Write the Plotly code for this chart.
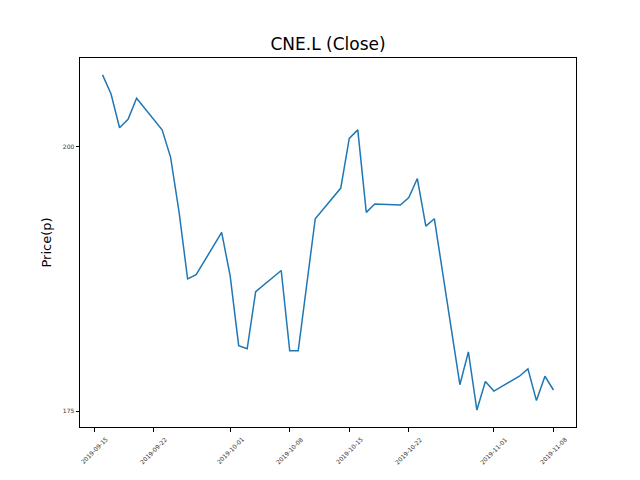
import plotly.graph_objects as go

dates = ["2019-09-16", "2019-09-17", "2019-09-18", "2019-09-19", "2019-09-20",
         "2019-09-23", "2019-09-24", "2019-09-25", "2019-09-26", "2019-09-27",
         "2019-09-30", "2019-10-01", "2019-10-02", "2019-10-03", "2019-10-04",
         "2019-10-07", "2019-10-08", "2019-10-09", "2019-10-11",
         "2019-10-14", "2019-10-15", "2019-10-16", "2019-10-17", "2019-10-18",
         "2019-10-21", "2019-10-22", "2019-10-23", "2019-10-24", "2019-10-25",
         "2019-10-28", "2019-10-29", "2019-10-30", "2019-10-31", "2019-11-01",
         "2019-11-04", "2019-11-05", "2019-11-06", "2019-11-07", "2019-11-08"]
close = [206.8, 205.0, 201.8, 202.6, 204.6,
         201.6, 199.0, 193.8, 187.5, 187.9,
         191.9, 187.8, 181.2, 180.9, 186.3,
         188.3, 180.7, 180.7, 193.2,
         196.1, 200.8, 201.6, 193.8, 194.6,
         194.5, 195.2, 197.0, 192.5, 193.2,
         177.5, 180.6, 175.1, 177.8, 176.9,
         178.3, 179.0, 176.0, 178.3, 177.0]

tick_vals = ["2019-09-15", "2019-09-22", "2019-10-01", "2019-10-08",
             "2019-10-15", "2019-10-22", "2019-11-01", "2019-11-08"]
y_ticks = [175, 200]

fig = go.Figure()
fig.add_trace(go.Scatter(x=dates, y=close, mode="lines",
                         line=dict(color="#1f77b4", width=1.5)))

axis_common = dict(showline=True, linecolor="black", linewidth=1, mirror=True,
                   ticks="outside", ticklen=3.5, tickcolor="black",
                   showgrid=False, zeroline=False,
                   tickfont=dict(family="DejaVu Sans", size=6, color="#333"))

# matplotlib-style centred rotated date labels
for d in tick_vals:
    fig.add_annotation(x=d, xref="x", y=0, yref="paper", text=d,
                       textangle=-45, showarrow=False,
                       xanchor="center", yanchor="top", yshift=-6,
                       font=dict(family="DejaVu Sans", size=6, color="#333"))

fig.update_layout(
    width=640, height=480,
    margin=dict(l=72, r=72, t=50, b=61),
    paper_bgcolor="white", plot_bgcolor="white",
    showlegend=False,
    font=dict(family="DejaVu Sans", color="black"),
    title=dict(text="CNE.L (Close)", x=0.5, xanchor="center",
               y=1 - 36 / 480, yanchor="middle",
               font=dict(size=17, family="DejaVu Sans", color="black")),
    xaxis=dict(type="date", range=["2019-09-13 08:24", "2019-11-10 15:36"],
               tickvals=tick_vals, showticklabels=False,
               **axis_common),
    yaxis=dict(range=[173.5, 208.4], tickvals=y_ticks,
               title=dict(text="Price(p)", font=dict(size=13, family="DejaVu Sans"),
                          standoff=8),
               **axis_common),
)

fig.write_html("out.html")
